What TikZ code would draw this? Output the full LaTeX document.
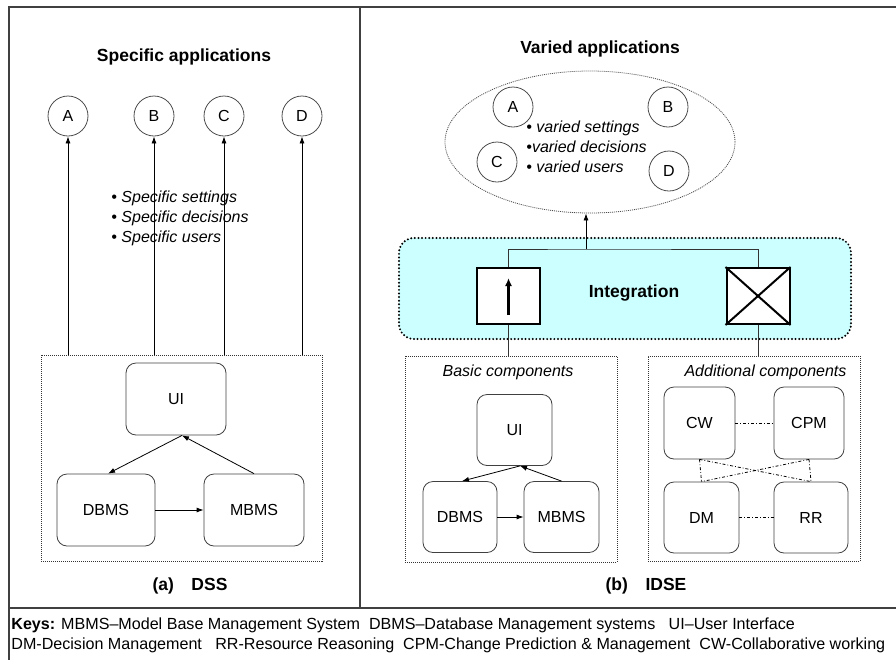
\documentclass[tikz,border=0pt]{standalone}
\usepackage{fontspec}
\setmainfont{Liberation Sans}
\usetikzlibrary{arrows.meta,shapes.geometric}
\definecolor{intfill}{RGB}{204,255,255}

\begin{document}
\begin{tikzpicture}[x=1pt,y=-1pt,line width=0.8pt,
  every node/.style={inner sep=0pt,font=\fontsize{16}{19}\selectfont},
  app/.style={draw=black!70,circle,minimum size=40pt},
  comp/.style={draw=black!75,rounded corners=10pt,minimum height=71pt},
  group/.style={draw=black!80,dash pattern=on 1pt off 1pt},
  head/.style={font=\bfseries\fontsize{17.5}{21}\selectfont},
  note/.style={font=\itshape\fontsize{16}{20}\selectfont,align=left},
  arr/.style={-{Latex[length=7pt,width=5pt]}},
  link/.style={dash dot}]
\useasboundingbox (0,0) rectangle (896,659);
\clip (0,0) rectangle (896,659);
\draw[black!75,line width=1.2pt] (9,665) -- (9,7) -- (900,7);
\draw[black!75,line width=1.2pt] (360,7) -- (360,608);
\draw[black!75,line width=1.2pt] (9,608) -- (900,608);

\node[head] (spec) at (184,57) {Specific applications};
\node[app] (a1) at (68,116) {A};
\node[app] (b1) at (154,116) {B};
\node[app] (c1) at (224,116) {C};
\node[app] (d1) at (302,116) {D};
\node[group,minimum width=281pt,minimum height=206pt] (dss) at (181.5,458) {};
\node[note,anchor=west] (specnote) at (111,218) {\textbullet\ Specific settings\\\textbullet\ Specific decisions\\\textbullet\ Specific users};
\draw[arr] (dss.north -| a1) -- (a1);
\draw[arr] (dss.north -| b1) -- (b1);
\draw[arr] (dss.north -| c1) -- (c1);
\draw[arr] (dss.north -| d1) -- (d1);
\node[comp,minimum width=100pt,minimum height=72pt] (ui) at (176,399) {UI};
\node[comp,minimum width=98pt,minimum height=72pt] (dbms) at (106,510) {DBMS};
\node[comp,minimum width=100pt,minimum height=72pt] (mbms) at (254,510) {MBMS};
\draw[arr] ([xshift=6pt]ui.south) -- ([xshift=2pt]dbms.north);
\draw[arr] (mbms.north) -- ([xshift=6pt]ui.south);
\draw[arr] (dbms) -- (mbms);
\node[head] (capa) at (190,586) {(a)\quad DSS};

\node[head] (varied) at (600,49) {Varied applications};
\node[draw=black!70,ellipse,dash pattern=on 1pt off 1pt,minimum width=290pt,minimum height=142pt] (apps) at (590,142) {};
\node[app] (a2) at (513,107) {A};
\node[app] (b2) at (668,107) {B};
\node[app] (c2) at (497,162) {C};
\node[app] (d2) at (669,171) {D};
\node[note,anchor=west] (varnote) at (526,147) {\textbullet\ varied settings\\\textbullet varied decisions\\\textbullet\ varied users};

\node[draw=black,fill=intfill,rounded corners=15pt,line width=2.2pt,dash pattern=on 0pt off 3.6pt,line cap=round,minimum width=452pt,minimum height=101pt] (integ) at (625,288.5) {};
\node[head] (intlbl) at (634,293) {Integration};
\node[draw=black,fill=white,line width=1.5pt,minimum width=63pt,minimum height=56pt] (upbox) at (508.5,296) {};
\draw[line width=2.4pt,-{Latex[length=8pt,width=7pt]}] ([yshift=-19pt]upbox.center) -- ([yshift=18pt]upbox.center);
\node[draw=black,fill=white,line width=2pt,minimum width=63pt,minimum height=56pt] (xbox) at (758,296) {};
\draw[line width=2pt] (xbox.north west) -- (xbox.south east) (xbox.north east) -- (xbox.south west);
\coordinate (join) at (586,249);
\draw[black!80] (upbox.north) |- (join) -| (xbox.north);
\draw[arr] (join) -- (join |- apps.south);

\node[group,minimum width=212pt,minimum height=206pt] (basic) at (511,459) {};
\node[note] (basiclbl) at (508,372) {Basic components};
\node[comp,minimum width=75pt] (ui2) at (514.5,430) {UI};
\node[comp,minimum width=74pt] (dbms2) at (460,517) {DBMS};
\node[comp,minimum width=75pt] (mbms2) at (561.5,517) {MBMS};
\draw[arr] ([xshift=5.5pt]ui2.south) -- ([xshift=2pt]dbms2.north);
\draw[arr] (mbms2.north) -- ([xshift=5.5pt]ui2.south);
\draw[arr] (dbms2) -- (mbms2);

\node[group,minimum width=212pt,minimum height=205pt] (addl) at (754,458.5) {};
\node[note] (addllbl) at (765.5,372) {Additional components};
\node[comp,minimum width=71pt,minimum height=72pt] (cw) at (699.5,423) {CW};
\node[comp,minimum width=70pt,minimum height=72pt] (cpm) at (809,423) {CPM};
\node[comp,minimum width=75pt] (dm) at (701.5,517.5) {DM};
\node[comp,minimum width=74pt] (rr) at (811,517.5) {RR};
\draw[link] (cw) -- (cpm);
\draw[link] (dm) -- (rr);
\draw[link] (cw.south) -- (dm.north);
\draw[link] (cpm.south) -- (rr.north);
\draw[link] (cw.south) -- (rr.north);
\draw[link] (cpm.south) -- (dm.north);

\draw[black!80] (upbox.south) -- (upbox.south |- basic.north);
\draw[black!80] (xbox.south) -- (xbox.south |- addl.north);
\node[head] (capb) at (646,586) {(b)\quad IDSE};

\node[anchor=west,align=left,font=\fontsize{16.1}{20}\selectfont] (keys) at (11,635) {\textbf{Keys:} MBMS–Model Base Management System\ \ DBMS–Database Management systems\ \ \ UI–User Interface\\DM-Decision Management\ \ \ RR-Resource Reasoning\ \ CPM-Change Prediction \& Management\ \ CW-Collaborative working};
\end{tikzpicture}
\end{document}
